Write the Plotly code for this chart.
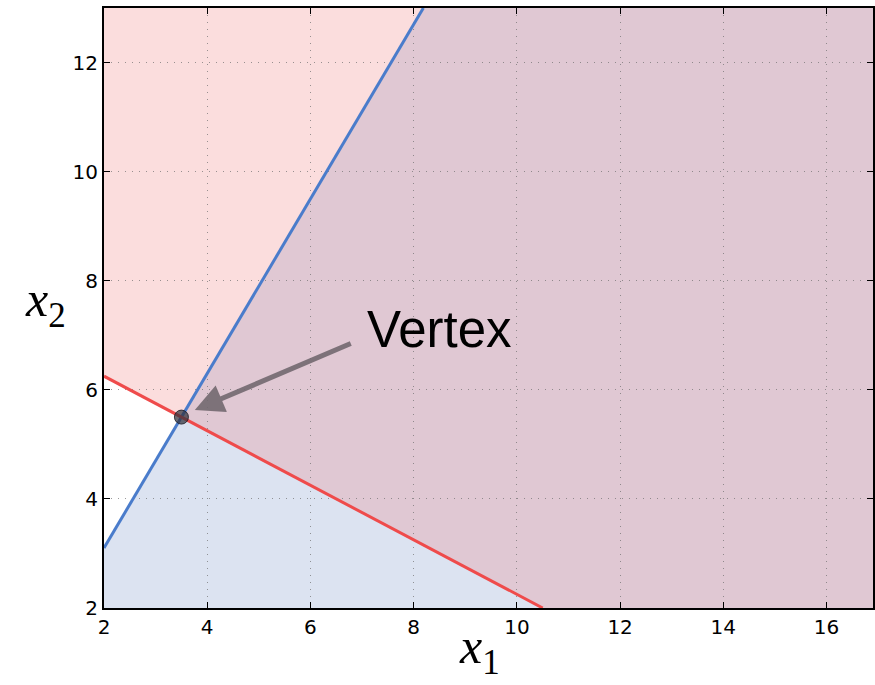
import plotly.graph_objects as go

# ---- data ----
x_range = [2, 16.9]
y_range = [2, 13]
x_ticks = [2, 4, 6, 8, 10, 12, 14, 16]
y_ticks = [2, 4, 6, 8, 10, 12]

# constraint lines (endpoints inside the view)
red_x = [2.0, 10.5]
red_y = [6.25, 2.0]
blue_x = [2.0, 8.1875]
blue_y = [3.1, 13.0]

vertex_x = [3.5]
vertex_y = [5.5]
vertex_label = "Vertex"

# ---- colors ----
RED = "#EF4B4B"
BLUE = "#4A7CCB"
PINK_FILL = "#FBDDDD"
BLUE_FILL = "#DCE3F1"
OVER_FILL = "#E0C8D3"

x0, x1 = x_range
y0, y1 = y_range


def path(xs, ys):
    pts = " L ".join(f"{x},{y}" for x, y in zip(xs, ys))
    return "M " + pts + " Z"


fig = go.Figure()

# region above red line
fig.add_shape(type="path", xref="x", yref="y", layer="below", line_width=0,
              fillcolor=PINK_FILL,
              path=path([red_x[0], red_x[1], x1, x1, x0], [red_y[0], red_y[1], y0, y1, y1]))
# region right of blue line
fig.add_shape(type="path", xref="x", yref="y", layer="below", line_width=0,
              fillcolor=BLUE_FILL,
              path=path([x0, blue_x[0], blue_x[1], x1, x1], [y0, blue_y[0], blue_y[1], y1, y0]))
# overlap
fig.add_shape(type="path", xref="x", yref="y", layer="below", line_width=0,
              fillcolor=OVER_FILL,
              path=path([vertex_x[0], blue_x[1], x1, x1, red_x[1]],
                        [vertex_y[0], blue_y[1], y1, y0, red_y[1]]))

# lines
fig.add_trace(go.Scatter(x=blue_x, y=blue_y, mode="lines",
                         line=dict(color=BLUE, width=3), showlegend=False))
fig.add_trace(go.Scatter(x=red_x, y=red_y, mode="lines",
                         line=dict(color=RED, width=3), showlegend=False))

# vertex
fig.add_trace(go.Scatter(x=vertex_x, y=vertex_y, mode="markers",
                         marker=dict(size=14, color="rgba(50,50,60,0.72)",
                                     line=dict(color="rgba(30,30,40,0.85)", width=1)),
                         showlegend=False))

# arrow
fig.add_annotation(x=3.76, y=5.63, ax=6.81, ay=6.86, xref="x", yref="y",
                   axref="x", ayref="y", text="", showarrow=True,
                   arrowhead=2, arrowsize=1.15, arrowwidth=5,
                   arrowcolor="rgba(115,105,112,0.9)", standoff=0, startstandoff=0)
fig.add_annotation(x=8.5, y=6.55, xref="x", yref="y", text=vertex_label,
                   showarrow=False, yanchor="bottom", xanchor="center",
                   font=dict(family="Liberation Sans, Arial, sans-serif", size=51, color="black"))

# axis labels
axis_font = dict(family="Liberation Serif, DejaVu Serif, serif", size=50, color="black")
fig.add_annotation(x=(480 - 104) / (875 - 104), y=-(650 - 608) / 600, xref="paper", yref="paper",
                   text="<i>x</i><sub>1</sub>", showarrow=False,
                   xanchor="center", yanchor="middle", font=axis_font)
fig.add_annotation(x=-(104 - 45) / (875 - 104), y=(608 - 303) / 600, xref="paper", yref="paper",
                   text="<i>x</i><sub>2</sub>", showarrow=False,
                   xanchor="center", yanchor="middle", font=axis_font)

tick_font = dict(family="DejaVu Sans, sans-serif", size=20, color="black")
common = dict(showgrid=True, gridcolor="rgba(110,110,110,0.7)", griddash="1px,6px", gridwidth=1.3,
              zeroline=False, showline=True, linecolor="black", linewidth=2, mirror="ticks",
              ticks="inside", ticklen=6, tickwidth=1, tickcolor="black", tickfont=tick_font,
              layer="above traces")

fig.update_xaxes(range=x_range, tickvals=x_ticks, ticktext=[str(v) for v in x_ticks], **common)
fig.update_yaxes(range=y_range, tickvals=y_ticks, ticktext=[str(v) for v in y_ticks], **common)

fig.update_layout(width=875, height=685, margin=dict(l=104, r=0, t=8, b=77),
                  plot_bgcolor="white", paper_bgcolor="white")

fig.write_html("out.html")
